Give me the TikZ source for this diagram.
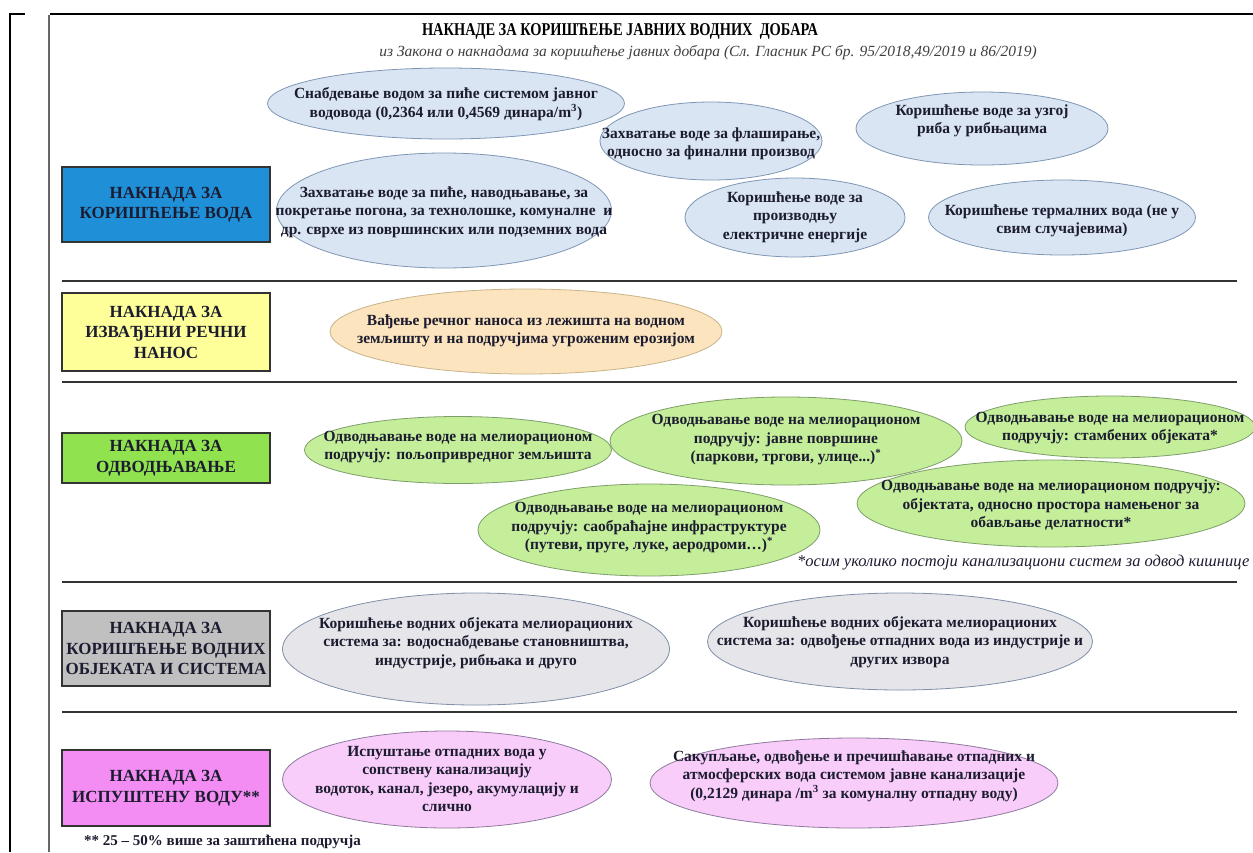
\documentclass[tikz,border=0pt]{standalone}
\usepackage{fontspec}
\setmainfont{Liberation Serif}
\newfontfamily\condfont{Liberation Serif}[FakeStretch=0.8]
\usetikzlibrary{shapes.geometric}
\definecolor{txt}{HTML}{1C1C30}
\definecolor{bfill}{HTML}{DAE5F3}
\definecolor{bline}{HTML}{7F96B5}
\definecolor{ofill}{HTML}{FCE4BE}
\definecolor{oline}{HTML}{C8B48A}
\definecolor{gfill}{HTML}{C5EE9A}
\definecolor{gline}{HTML}{7E9E6A}
\definecolor{efill}{HTML}{E6E6EA}
\definecolor{eline}{HTML}{7F8FA8}
\definecolor{pfill}{HTML}{F9CDF9}
\definecolor{pline}{HTML}{8E7A9E}
\definecolor{kblue}{HTML}{1F8FD8}
\definecolor{kyellow}{HTML}{FFFF99}
\definecolor{kgreen}{HTML}{90E24E}
\definecolor{kgray}{HTML}{C0C0C0}
\definecolor{kpink}{HTML}{F38CF3}
\begin{document}
\begin{tikzpicture}[x=1pt,y=-1pt,
  ell/.style={ellipse, draw, line width=0.8pt, inner sep=0pt},
  bell/.style={ell, fill=bfill, draw=bline},
  oell/.style={ell, fill=ofill, draw=oline},
  gell/.style={ell, fill=gfill, draw=gline},
  eell/.style={ell, fill=efill, draw=eline},
  pell/.style={ell, fill=pfill, draw=pline},
  etxt/.style={align=center, inner sep=0pt, text=txt, font=\fontsize{15.5}{18.5}\selectfont\bfseries},
  catbox/.style={draw=black!80, line width=1.2pt, minimum width=208pt, inner sep=0pt, align=center, text=txt, font=\fontsize{17}{20.5}\selectfont\bfseries},
  divider/.style={draw=black!80, line width=1.6pt},
  frame/.style={draw=black, line width=2.5pt}
]
\useasboundingbox (0,0) rectangle (1253,852);
\fill[white] (0,0) rectangle (1253,852);
% frame
\draw[frame] (10,852) -- (10,14) -- (25,14);
\draw[frame] (50,14) -- (1253,14);
\draw[draw=black!60, line width=1.4pt] (49,15) -- (49,852);
% dividers
\draw[divider] (62,281) -- (1237,281);
\draw[divider] (62,382) -- (1237,382);
\draw[divider] (62,582) -- (1237,582);
\draw[divider] (62,712) -- (1237,712);
% title
\node[inner sep=0pt, font=\fontsize{18}{20}\selectfont\condfont\bfseries] (title) at (620,31) {НАКНАДЕ ЗА КОРИШЋЕЊЕ ЈАВНИХ ВОДНИХ \ ДОБАРА};
\node[inner sep=0pt, font=\fontsize{15.5}{17}\selectfont\itshape, text=black!75] (sub) at (708,53) {из Закона о накнадама за коришћење јавних добара (Сл. Гласник РС бр. 95/2018,49/2019 и 86/2019)};
% category boxes
\node[catbox, fill=kblue, minimum height=75pt] (k1) at (166,204.5) {НАКНАДА ЗА\\КОРИШЋЕЊЕ ВОДА};
\node[catbox, fill=kyellow, minimum height=78pt] (k2) at (166,332) {НАКНАДА ЗА\\ИЗВАЂЕНИ РЕЧНИ\\НАНОС};
\node[catbox, fill=kgreen, minimum height=50pt] (k3) at (166,458) {НАКНАДА ЗА\\ОДВОДЊАВАЊЕ};
\node[catbox, fill=kgray, minimum height=75pt] (k4) at (166,648.5) {НАКНАДА ЗА\\КОРИШЋЕЊЕ ВОДНИХ\\ОБЈЕКАТА И СИСТЕМА};
\node[catbox, fill=kpink, minimum height=76pt] (k5) at (166,788) {НАКНАДА ЗА\\ИСПУШТЕНУ ВОДУ**};
% ellipses
\node[bell, minimum width=357pt, minimum height=71pt] (b1) at (446,103.5) {};
\node[bell, minimum width=335pt, minimum height=115pt] (b4) at (444,210.5) {};
\node[bell, minimum width=222pt, minimum height=78pt] (b2) at (711,141) {};
\node[bell, minimum width=220pt, minimum height=79pt] (b5) at (795,217.5) {};
\node[bell, minimum width=252pt, minimum height=73pt] (b3) at (982,128.5) {};
\node[bell, minimum width=267pt, minimum height=75pt] (b6) at (1062,217.5) {};
\node[oell, minimum width=392pt, minimum height=85pt] (o1) at (526,331.5) {};
\node[gell, minimum width=307pt, minimum height=67pt] (g1) at (458,450) {};
\node[gell, minimum width=352pt, minimum height=88pt] (g2) at (786,441) {};
\node[gell, minimum width=290pt, minimum height=62pt] (g3) at (1110,427) {};
\node[gell, minimum width=388pt, minimum height=87pt] (g4) at (1051,503.5) {};
\node[gell, minimum width=342pt, minimum height=92pt] (g5) at (649,530) {};
\node[eell, minimum width=387pt, minimum height=112pt] (e1) at (476,649) {};
\node[eell, minimum width=385pt, minimum height=97pt] (e2) at (900,641.5) {};
\node[pell, minimum width=329pt, minimum height=97pt] (p1) at (447,779.5) {};
\node[pell, minimum width=408pt, minimum height=90pt] (p2) at (854,783) {};
% ellipse texts
\node[etxt] (b1t) at (446,104) {Снабдевање водом за пиће системом јавног\\водовода (0,2364 или 0,4569 динара/m\textsuperscript{3})};
\node[etxt] (b4t) at (444,212) {Захватање воде за пиће, наводњавање, за\\покретање погона, за технолошке, комуналне \ и\\др. сврхе из површинских или подземних вода};
\node[etxt] (b2t) at (711,144) {Захватање воде за флаширање,\\односно за финални производ};
\node[etxt] (b5t) at (795,217) {Коришћење воде за\\производњу\\електричне енергије};
\node[etxt] (b3t) at (982,121) {Коришћење воде за узгој\\риба у рибњацима};
\node[etxt] (b6t) at (1062,221) {Коришћење термалних вода (не у\\свим случајевима)};
\node[etxt] (o1t) at (526,331) {Вађење речног наноса из лежишта на водном\\земљишту и на подручјима угроженим ерозијом};
\node[etxt] (g1t) at (458,447) {Одводњавање воде на мелиорационом\\подручју: пољопривредног земљишта};
\node[etxt] (g2t) at (786,440) {Одводњавање воде на мелиорационом\\подручју: јавне површине\\(паркови, тргови, улице...)\textsuperscript{*}};
\node[etxt] (g3t) at (1110,428) {Одводњавање воде на мелиорационом\\подручју: стамбених објеката*};
\node[etxt] (g4t) at (1051,505) {Одводњавање воде на мелиорационом подручју:\\објектата, односно простора намењеног за\\обављање делатности*};
\node[etxt] (g5t) at (649,528) {Одводњавање воде на мелиорационом\\подручју: саобраћајне инфраструктуре\\(путеви, пруге, луке, аеродроми…)\textsuperscript{*}};
\node[etxt] (e1t) at (476,643) {Коришћење водних објеката мелиорационих\\система за: водоснабдевање становништва,\\индустрије, рибњака и друго};
\node[etxt] (e2t) at (900,642) {Коришћење водних објеката мелиорационих\\система за: одвођење отпадних вода из индустрије и\\других извора};
\node[etxt] (p1t) at (447,779) {Испуштање отпадних вода у\\сопствену канализацију\\водоток, канал, језеро, акумулацију и\\слично};
\node[etxt] (p2t) at (854,776) {Сакупљање, одвођење и пречишћавање отпадних и\\атмосферских вода системом јавне канализације\\(0,2129 динара /m\textsuperscript{3} за комуналну отпадну воду)};
% footnotes
\node[anchor=west, inner sep=0pt, text=txt, font=\fontsize{16.5}{18}\selectfont\itshape] (fn1) at (797,563) {*осим уколико постоји канализациони систем за одвод кишнице};
\node[anchor=west, inner sep=0pt, text=txt, font=\fontsize{15}{17}\selectfont\bfseries] (fn2) at (84,842) {** 25 – 50\% више за заштићена подручја};
\end{tikzpicture}
\end{document}
